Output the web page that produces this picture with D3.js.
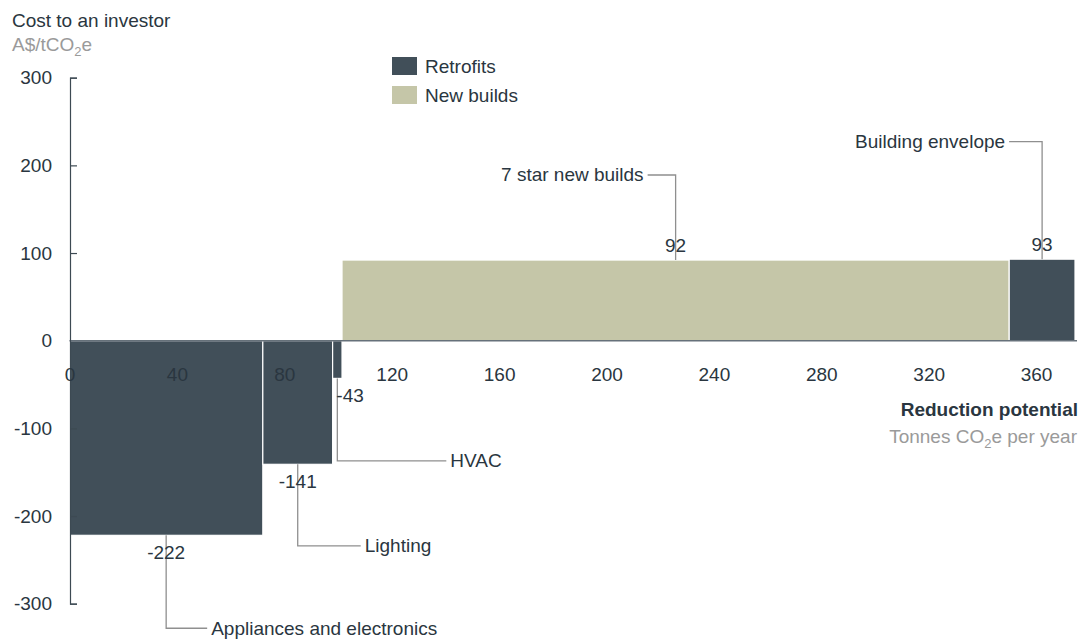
<!DOCTYPE html>
<html>
<head>
<meta charset="utf-8">
<script src="https://cdn.jsdelivr.net/npm/d3@7/dist/d3.min.js"></script>
<style>
  html, body { margin: 0; padding: 0; background: #fff; }
  svg { display: block; font-family: "Liberation Sans", Arial, Helvetica, sans-serif; }
</style>
</head>
<body>
<svg id="chart" width="1083" height="639"></svg>
<script>
// Abatement measures, in order along the reduction-potential axis
const categories = ["Appliances and electronics", "Lighting", "HVAC", "7 star new builds", "Building envelope"];
const groups = ["Retrofits", "Retrofits", "Retrofits", "New builds", "Retrofits"];
// Cost to an investor, A$/tCO2e
const costs = [-222, -141, -43, 92, 93];
// Reduction potential, tonnes CO2e per year (bar widths)
const potentials = [72, 26, 3.5, 248.5, 24.5];

const xTicks = [0, 40, 80, 120, 160, 200, 240, 280, 320, 360];
const yTicks = [-300, -200, -100, 0, 100, 200, 300];
const legendItems = ["Retrofits", "New builds"];

// Callout layout: elbow height (in axis units), horizontal arm (px), value-label anchor
const calloutLayout = [
  { elbow: -328, arm: 41, anchor: "middle" },
  { elbow: -234, arm: 63, anchor: "middle" },
  { elbow: -137, arm: 109, anchor: "start" },
  { elbow: 189, arm: -28, anchor: "middle" },
  { elbow: 227, arm: -33, anchor: "middle" }
];

const colors = { "Retrofits": "#414f59", "New builds": "#c5c6a8" };
const textColor = "#2a3640";
const mutedText = "#9a9a9a";
const leaderColor = "#8f8f8f";
const fontSize = 19;

const svg = d3.select("#chart");

// Cumulative extents of each bar along x
let acc = 0;
const bars = categories.map((c, i) => {
  const d = { name: c, group: groups[i], cost: costs[i], x0: acc, x1: acc + potentials[i], layout: calloutLayout[i] };
  acc += potentials[i];
  return d;
});
const total = acc;

const x = d3.scaleLinear().domain([0, total]).range([69.5, 1075]);
const y = d3.scaleLinear().domain([-300, 300]).range([603.7, 77.7]);

// Y axis title
svg.append("text")
  .attr("x", 12).attr("y", 27)
  .attr("font-size", fontSize).attr("fill", textColor)
  .text("Cost to an investor");
const unitY = svg.append("text")
  .attr("x", 12).attr("y", 51)
  .attr("font-size", fontSize).attr("fill", mutedText);
unitY.append("tspan").text("A$/tCO");
unitY.append("tspan").attr("font-size", 13).attr("dy", 5).text("2");
unitY.append("tspan").attr("dy", -5).text("e");

// Legend
const legend = svg.append("g").attr("transform", "translate(392,57)");
legendItems.forEach((name, i) => {
  const g = legend.append("g").attr("transform", `translate(0,${i * 29})`);
  g.append("rect").attr("width", 25).attr("height", 18).attr("fill", colors[name]);
  g.append("text").attr("x", 33).attr("y", 16)
    .attr("font-size", fontSize).attr("fill", textColor).text(name);
});

// Bars
svg.append("g").selectAll("rect")
  .data(bars)
  .join("rect")
  .attr("x", d => x(d.x0))
  .attr("width", d => x(d.x1) - x(d.x0))
  .attr("y", d => y(Math.max(0, d.cost)))
  .attr("height", d => Math.abs(y(d.cost) - y(0)))
  .attr("fill", d => colors[d.group])
  .attr("stroke", "#fff")
  .attr("stroke-width", 1.2);

// Zero baseline
svg.append("line")
  .attr("x1", x(0)).attr("x2", x(total) + 2)
  .attr("y1", y(0)).attr("y2", y(0))
  .attr("stroke", "#66717a").attr("stroke-width", 1.5);

// Y axis with inward ticks
const yAxis = svg.append("g")
  .attr("transform", `translate(${x(0) + 0.5},0)`)
  .call(d3.axisLeft(y).tickValues(yTicks).tickFormat(d => String(d))
    .tickSizeInner(-7).tickSizeOuter(-7).tickPadding(18));
yAxis.select(".domain").attr("stroke", "#3d4a53").attr("stroke-width", 1.2);
yAxis.selectAll(".tick line").attr("stroke", "#3d4a53").attr("stroke-width", 1.2);
yAxis.selectAll(".tick text")
  .attr("font-size", fontSize).attr("fill", textColor)
  .attr("font-family", "Liberation Sans, Arial, sans-serif");
yAxis.selectAll(".tick").filter(d => d === 0).select("line").remove();

// X axis labels along the zero line
const xAxis = svg.append("g")
  .attr("transform", `translate(0,${y(0)})`)
  .call(d3.axisBottom(x).tickValues(xTicks).tickFormat(d => String(d)).tickSize(0).tickPadding(27));
xAxis.select(".domain").remove();
xAxis.selectAll(".tick text")
  .attr("font-size", fontSize).attr("fill", textColor)
  .attr("font-family", "Liberation Sans, Arial, sans-serif");

// X axis title
svg.append("text")
  .attr("x", 1078).attr("y", 416).attr("text-anchor", "end")
  .attr("font-size", fontSize).attr("font-weight", "bold").attr("fill", textColor)
  .text("Reduction potential");
const unitX = svg.append("text")
  .attr("x", 1077).attr("y", 443).attr("text-anchor", "end")
  .attr("font-size", fontSize).attr("fill", mutedText);
unitX.append("tspan").text("Tonnes CO");
unitX.append("tspan").attr("font-size", 13).attr("dy", 5).text("2");
unitX.append("tspan").attr("dy", -5).text("e per year");

// Callout leaders and labels
const callouts = svg.append("g");
bars.forEach(d => {
  const cx = (x(d.x0) + x(d.x1)) / 2;
  const edge = y(d.cost);
  const ey = y(d.layout.elbow);
  const ex = cx + d.layout.arm;
  callouts.append("path")
    .attr("d", `M${cx},${edge}V${ey}H${ex}`)
    .attr("fill", "none").attr("stroke", leaderColor).attr("stroke-width", 1.3);
  callouts.append("text")
    .attr("x", d.layout.arm > 0 ? ex + 4 : ex - 4)
    .attr("y", ey).attr("dy", "0.33em")
    .attr("text-anchor", d.layout.arm > 0 ? "start" : "end")
    .attr("font-size", fontSize).attr("fill", textColor)
    .text(d.name);
  callouts.append("text")
    .attr("x", d.layout.anchor === "start" ? cx - 1 : cx)
    .attr("y", d.cost < 0 ? edge + 24 : edge - 8)
    .attr("text-anchor", d.layout.anchor)
    .attr("font-size", fontSize).attr("fill", textColor)
    .text(d.cost);
});
</script>
</body>
</html>
